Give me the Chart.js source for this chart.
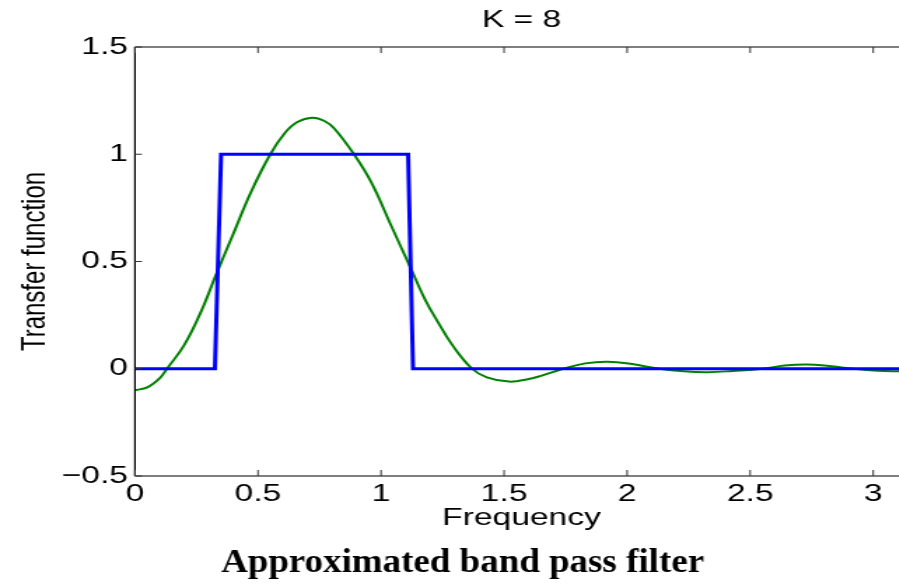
<!DOCTYPE html>
<html>
<head>
<meta charset="utf-8">
<script src="https://cdn.jsdelivr.net/npm/chart.js@4.4.1/dist/chart.umd.min.js"></script>
<style>
html, body { margin: 0; padding: 0; background: #ffffff; overflow: hidden; width: 899px; height: 584px; }
#wrap { width: 899px; height: 584px; overflow: hidden; position: relative; }
#c { position: absolute; left: 0; top: 0; width: 924px; height: 584px; }
</style>
</head>
<body>
<div id="wrap"><canvas id="c" width="660" height="584" style="width:924px;height:584px"></canvas></div>
<script>
// ---- data ----
const idealFreq = [0, 0.325, 0.35, 1.11, 1.13, 3.1416];
const idealResponse = [0, 0, 1, 1, 0, 0];

const approxFreq = [0, 0.05, 0.10, 0.13, 0.20, 0.27, 0.33, 0.40, 0.47, 0.55, 0.61, 0.66, 0.72, 0.77, 0.81,
  0.89, 0.96, 1.04, 1.12, 1.18, 1.23, 1.29, 1.37, 1.43, 1.52, 1.60, 1.65, 1.74, 1.83, 1.92, 2.02,
  2.13, 2.23, 2.33, 2.43, 2.55, 2.64, 2.73, 2.82, 2.92, 3.02, 3.11, 3.1416];
const approxResponse = [-0.10, -0.087, -0.045, 0.0, 0.11, 0.27, 0.44, 0.63, 0.82, 1.0, 1.10, 1.15, 1.17, 1.155, 1.12,
  1.0, 0.87, 0.67, 0.47, 0.32, 0.22, 0.11, 0.0, -0.04, -0.06, -0.048, -0.033, 0.0, 0.025, 0.033, 0.022,
  0.0, -0.012, -0.016, -0.01, 0.0, 0.015, 0.02, 0.013, 0.0, -0.009, -0.012, -0.013];

const xTickValues = [0, 0.5, 1, 1.5, 2, 2.5, 3];
const yTickValues = [-0.5, 0, 0.5, 1, 1.5];

const titleText = 'K = 8';
const xTitleText = 'Frequency';
const yTitleText = 'Transfer function';
const captionText = 'Approximated band pass filter';

// ---- helpers ----
const toPoints = (xs, ys) => xs.map((x, i) => ({ x: x, y: ys[i] }));
const fmt = v => (v < 0 ? '\u2212' + String(Math.abs(v)) : String(v));
const SANS = 'Liberation Sans';

const framePlugin = {
  id: 'frame',
  afterDatasetsDraw(chart) {
    const { ctx, chartArea: a, scales } = chart;
    ctx.save();
    ctx.strokeStyle = '#000000';
    ctx.lineWidth = 1.2;
    ctx.beginPath();
    ctx.moveTo(a.left, a.top); ctx.lineTo(a.right, a.top);
    ctx.moveTo(a.left, a.bottom); ctx.lineTo(a.right, a.bottom);
    ctx.moveTo(a.left, a.top); ctx.lineTo(a.left, a.bottom);
    ctx.moveTo(a.right, a.top); ctx.lineTo(a.right, a.bottom);
    ctx.stroke();
    ctx.strokeStyle = '#333333';
    ctx.lineWidth = 1;
    ctx.beginPath();
    scales.x.ticks.forEach(t => {
      const px = scales.x.getPixelForValue(t.value);
      ctx.moveTo(px, a.bottom); ctx.lineTo(px, a.bottom - 6);
      ctx.moveTo(px, a.top); ctx.lineTo(px, a.top + 6);
    });
    scales.y.ticks.forEach(t => {
      const py = scales.y.getPixelForValue(t.value);
      ctx.moveTo(a.left, py); ctx.lineTo(a.left + 5, py);
      ctx.moveTo(a.right, py); ctx.lineTo(a.right - 5, py);
    });
    ctx.stroke();
    ctx.restore();
  },
  afterDraw(chart) {
    const ctx = chart.ctx;
    ctx.save();
    ctx.translate(330.4, 0);
    ctx.scale(1.12 / 1.4, 1);
    ctx.fillStyle = '#000000';
    ctx.font = 'bold 33px "Liberation Serif"';
    ctx.textAlign = 'center';
    ctx.textBaseline = 'alphabetic';
    ctx.fillText(captionText, 0, 571.5);
    ctx.restore();
  }
};

new Chart(document.getElementById('c'), {
  type: 'line',
  data: {
    datasets: [
      {
        label: 'Ideal',
        data: toPoints(idealFreq, idealResponse),
        borderColor: '#0000ff',
        borderWidth: 3,
        pointRadius: 0,
        tension: 0,
        fill: false
      },
      {
        label: 'Approximation',
        data: toPoints(approxFreq, approxResponse),
        borderColor: '#008000',
        borderWidth: 2,
        pointRadius: 0,
        tension: 0.4,
        fill: false
      }
    ]
  },
  options: {
    responsive: false,
    animation: false,
    devicePixelRatio: 1,
    events: [],
    layout: { padding: { left: 0, right: 11.4, top: 0, bottom: 0 } },
    plugins: {
      legend: { display: false },
      tooltip: { enabled: false },
      title: {
        display: true,
        text: titleText,
        fullSize: false,
        color: '#000000',
        font: { family: SANS, size: 24, weight: 'normal' },
        padding: { top: 6, bottom: 12.2 }
      }
    },
    scales: {
      x: {
        type: 'linear',
        min: 0,
        max: Math.PI,
        afterBuildTicks: s => { s.ticks = xTickValues.map(v => ({ value: v })); },
        afterFit: s => { s.height = 108; },
        grid: { display: false, drawTicks: false },
        border: { display: false },
        ticks: {
          padding: 4,
          color: '#000000',
          maxRotation: 0,
          autoSkip: false,
          font: { family: SANS, size: 24 },
          callback: v => fmt(v)
        },
        title: {
          display: true,
          text: xTitleText,
          color: '#000000',
          font: { family: SANS, size: 24 },
          padding: { top: 0, bottom: 51 }
        }
      },
      y: {
        type: 'linear',
        min: -0.5,
        max: 1.5,
        afterBuildTicks: s => { s.ticks = yTickValues.map(v => ({ value: v })); },
        afterFit: s => { s.width = 96.4; },
        grid: { display: false, drawTicks: false },
        border: { display: false },
        ticks: {
          padding: 5,
          color: '#000000',
          autoSkip: false,
          font: { family: SANS, size: 24 },
          callback: v => fmt(v)
        },
        title: {
          display: true,
          text: yTitleText,
          color: '#000000',
          font: { family: SANS, size: 24 },
          padding: { top: 11, bottom: 0 }
        }
      }
    }
  },
  plugins: [framePlugin]
});
</script>
</body>
</html>
